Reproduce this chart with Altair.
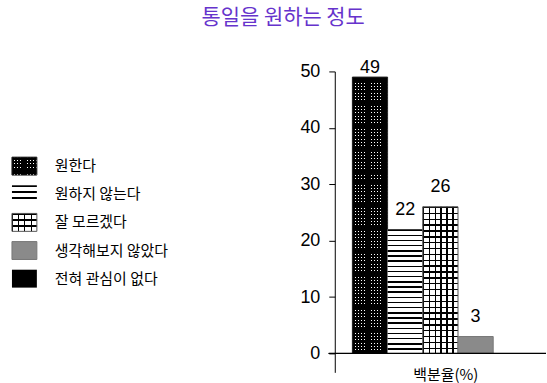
import altair as alt
import pandas as pd

# ---------------- data ----------------
categories = ["원한다", "원하지 않는다", "잘 모르겠다", "생각해보지 않았다", "전혀 관심이 없다"]
values = [49, 22, 26, 3, 0]
y_ticks = [0, 10, 20, 30, 40, 50]
title_text = "통일을 원하는 정도"
x_title = "백분율(%)"
patterns = ["dots", "hlines", "grid", "gray", "solid"]

df = pd.DataFrame({"cat": categories, "value": values})

# ---------------- layout / style ----------------
PLOT_W, PLOT_H = 212, 302
Y_MIN = -3.35
PX_PER_UNIT = PLOT_H / (50 - Y_MIN)
BAR_W = PLOT_W / 6.0
SW_W, SW_H = 25, 18
BLACK = "#000000"
CLEAR = "rgba(0,0,0,0)"
KFONT = "Noto Sans CJK KR"
NFONT = "Liberation Sans"


def stripes(n, ink_frac, vertical_lines):
    n = max(int(n), 1)
    stops = []
    for i in range(n):
        a = i / n
        b = (i + ink_frac) / n
        c = (i + 1) / n
        stops += [{"offset": round(a, 5), "color": BLACK},
                  {"offset": round(b, 5), "color": BLACK},
                  {"offset": round(b, 5), "color": CLEAR},
                  {"offset": round(c, 5), "color": CLEAR}]
    if vertical_lines:
        x2, y2 = 1, 0
    else:
        x2, y2 = 0, 1
    return {"gradient": "linear", "x1": 0, "y1": 0, "x2": x2, "y2": y2, "stops": stops}


def fills(kind, w, h, swatch=False):
    """Return list of (fill, stroke) layers emulating the hatch pattern."""
    if kind == "dots":
        return [("white", None), (stripes(round(h / 3.3), 0.74, False), None),
                (stripes(round(w / 3.3), 0.74, True), "#222222")]
    if kind == "hlines":
        n = 3 if swatch else round(h / 5.2)
        return [("white", None), (stripes(n, 0.3, False), None)]
    if kind == "grid":
        nr = 3 if swatch else round(h / 6.0)
        nc = 4 if swatch else round(w / 6.0)
        return [("white", None), (stripes(nr, 0.24, False), None),
                (stripes(nc, 0.24 if not swatch else 0.16, True), "#555555")]
    if kind == "gray":
        return [("#8a8a8a", "#777777")]
    return [(BLACK, None)]


# ---------------- right panel: bars ----------------
xscale = alt.Scale(domain=categories, paddingInner=0, paddingOuter=0.5)
yscale = alt.Scale(domain=[Y_MIN, 50], nice=False, zero=False)
x_enc = alt.X("cat:N", scale=xscale, sort=categories,
              axis=alt.Axis(labels=False, ticks=False, domain=False, title=x_title,
                            titleFont=KFONT, titleFontSize=15, titleFontWeight="normal",
                            titleColor="black", titleY=2, titleBaseline="middle",
                            titleX=111, titleAlign="center"))
y_axis = alt.Axis(values=y_ticks, grid=False, tickSize=6, tickColor="black",
                  domainColor="black", labelFont=NFONT, labelFontSize=18,
                  labelColor="black", labelPadding=9, title=None)

bar_layers = []
for cat, val, kind in zip(categories, values, patterns):
    if val <= 0:
        continue
    for fill, stroke in fills(kind, BAR_W, val * PX_PER_UNIT):
        kw = {"fill": fill}
        if stroke:
            kw["stroke"] = stroke
            kw["strokeWidth"] = 1
        bar_layers.append(
            alt.Chart(df).transform_filter(alt.datum.cat == cat).mark_bar(**kw).encode(
                x=x_enc, y=alt.Y("value:Q", scale=yscale, axis=y_axis))
        )

labels = alt.Chart(df).transform_filter(alt.datum.value > 0).transform_calculate(
    label_y="min(datum.value + 1.9, 49)"
).mark_text(font=NFONT, fontSize=18, color="black", baseline="bottom", align="center").encode(
    x=x_enc, y=alt.Y("label_y:Q", scale=yscale, axis=y_axis), text="value:Q")

zero_rule = alt.Chart(df).mark_rule(color="black", strokeWidth=1).encode(
    y=alt.datum(0, scale=yscale), x=alt.value(-6), x2=alt.value(PLOT_W))

right = alt.layer(*bar_layers, zero_rule, labels).properties(width=PLOT_W, height=PLOT_H)

# ---------------- left panel: legend ----------------
leg_y = alt.Y("cat:N", sort=categories, axis=None,
              scale=alt.Scale(type="band", domain=categories, range=[80.9, 222.1],
                              paddingInner=0.363, paddingOuter=0.1815))
leg_layers = []
for cat, kind in zip(categories, patterns):
    for fill, stroke in fills(kind, SW_W, SW_H, swatch=True):
        kw = {"fill": fill}
        if stroke:
            kw["stroke"] = stroke
            kw["strokeWidth"] = 1
        leg_layers.append(
            alt.Chart(df).transform_filter(alt.datum.cat == cat).mark_rect(**kw).encode(
                x=alt.value(12), x2=alt.value(12 + SW_W), y=leg_y)
        )
leg_text = alt.Chart(df).mark_text(align="left", baseline="middle", font=KFONT,
                                   fontSize=15, color="black").encode(
    x=alt.value(55), y=leg_y, text="cat:N")

left = alt.layer(*leg_layers, leg_text).properties(width=290, height=PLOT_H)

chart = alt.hconcat(left, right, spacing=10).properties(
    title=alt.TitleParams(title_text, font=KFONT, fontSize=21, fontWeight="normal",
                          color="#6633cc", anchor="middle", offset=31, dx=10),
    padding={"left": 0, "top": 6, "right": 0, "bottom": 0},
).configure_view(stroke=None)

chart.save("out.html", embed_options={"renderer": "svg", "actions": False})
